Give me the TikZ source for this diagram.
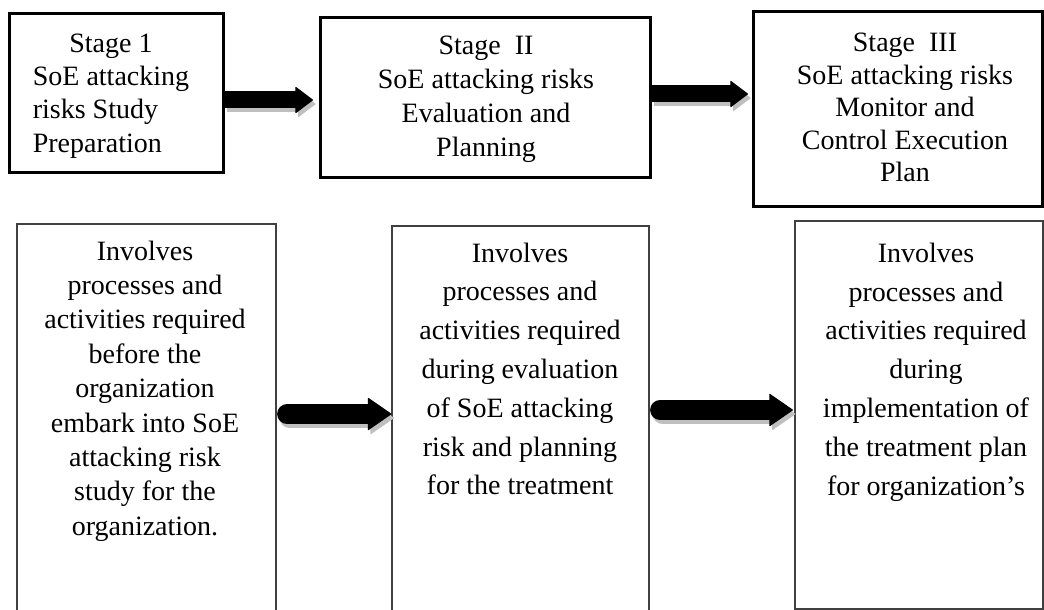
\documentclass[tikz,border=0pt]{standalone}
\usepackage{fontspec}
\setmainfont{Liberation Serif}
\usetikzlibrary{arrows.meta}
\begin{document}
\begin{tikzpicture}[x=1pt,y=1pt,
  stagebox/.style={draw=black, line width=3pt, rectangle, inner sep=0pt},
  detailbox/.style={draw=black!75, line width=1.2pt, rectangle, inner sep=0pt},
  boxtext/.style={inner sep=0pt, align=center, font=\fontsize{28pt}{#1}\selectfont},
  topflow/.style={line width=17pt,
    -{Triangle[length=18pt,width=27pt,line width=1pt,round]}},
  lowflow/.style={line width=20pt, line cap=round,
    -{Triangle[length=24pt,width=33pt,line width=1pt,round]}},
  flowshadow/.style={draw=black!25, transform canvas={shift={(2.5pt,-4pt)}}}
]
\useasboundingbox (0,0) rectangle (1044,610);

% stage headers
\node[stagebox, minimum width=214pt, minimum height=159pt] (s1) at (116,516.5) {};
\node[stagebox, minimum width=330pt, minimum height=160pt] (s2) at (485,512) {};
\node[stagebox, minimum width=289pt, minimum height=195pt] (s3) at (897.5,500.5) {};

\node[boxtext=33.3pt] (s1t) at (111,514.5)
  {\begin{tabular}{@{}l@{}}\multicolumn{1}{@{}c@{}}{Stage 1}\\SoE attacking\\risks Study\\Preparation\end{tabular}};
\node[boxtext=34pt] (s2t) at (486,510.5)
  {Stage~ II\\SoE attacking risks\\Evaluation and\\Planning};
\node[boxtext=32.5pt] (s3t) at (905,502.5)
  {Stage~ III\\SoE attacking risks\\Monitor and\\Control Execution\\Plan};

% detail boxes
\node[detailbox, minimum width=259pt, minimum height=391pt] (d1) at (146.5,190.5) {};
\node[detailbox, minimum width=257pt, minimum height=389pt] (d2) at (520.5,189.5) {};
\node[detailbox, minimum width=248pt, minimum height=388pt] (d3) at (919,195) {};

\node[boxtext=34.4pt] (d1t) at (145,219)
  {Involves\\processes and\\activities required\\before the\\organization\\embark into SoE\\attacking risk\\study for the\\organization.};
\node[boxtext=38.8pt] (d2t) at (520,241)
  {Involves\\processes and\\activities required\\during evaluation\\of SoE attacking\\risk and planning\\for the treatment};
\node[boxtext=38.8pt] (d3t) at (926,238)
  {Involves\\processes and\\activities required\\during\\implementation of\\the treatment plan\\for organization’s};

% block arrows with drop shadows
\draw[topflow, flowshadow] ([shift={(0,-6.5)}]s1.east) -- ([shift={(-5.5,-2)}]s2.west);
\draw[topflow] ([shift={(0,-6.5)}]s1.east) -- ([shift={(-5.5,-2)}]s2.west);
\draw[topflow, flowshadow] ([shift={(0,4)}]s2.east) -- ([shift={(-3.5,15.5)}]s3.west);
\draw[topflow] ([shift={(0,4)}]s2.east) -- ([shift={(-3.5,15.5)}]s3.west);

\draw[lowflow, flowshadow] ([shift={(10.5,5.5)}]d1.east) -- ([shift={(0,6.5)}]d2.west);
\draw[lowflow] ([shift={(10.5,5.5)}]d1.east) -- ([shift={(0,6.5)}]d2.west);
\draw[lowflow, flowshadow] ([shift={(10.5,10.5)}]d2.east) -- ([shift={(-1.5,5)}]d3.west);
\draw[lowflow] ([shift={(10.5,10.5)}]d2.east) -- ([shift={(-1.5,5)}]d3.west);
\end{tikzpicture}
\end{document}
